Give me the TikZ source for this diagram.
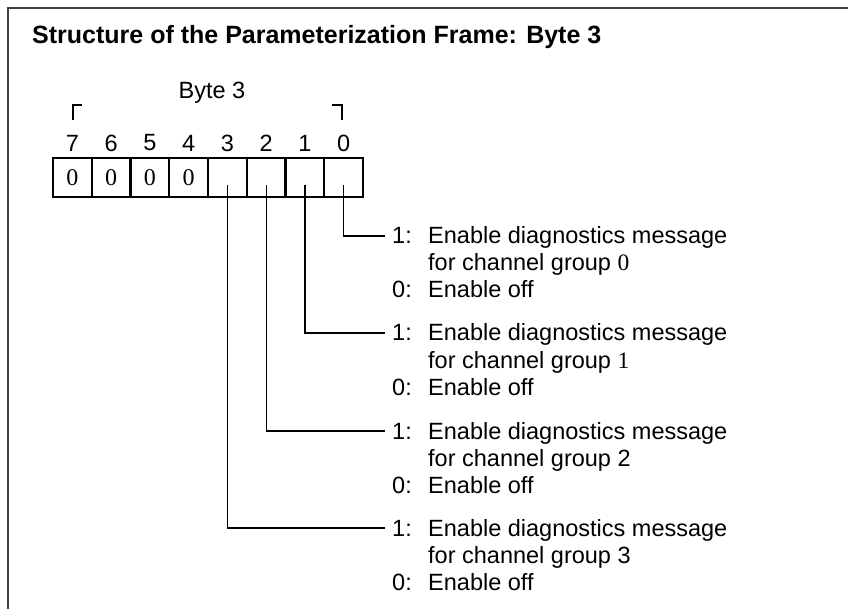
\documentclass[tikz,border=0pt]{standalone}
\usepackage{fontspec}
\setmainfont{Liberation Sans}
\newfontfamily\serifdig{Liberation Serif}
\begin{document}
\begin{tikzpicture}[x=1pt,y=-1pt,
  cell/.style={draw, line width=2.4pt, minimum width=38.75pt, minimum height=39pt, inner sep=0pt, font=\serifdig\fontsize{24}{24}\selectfont},
  bitnum/.style={font=\fontsize{23.5}{23.5}\selectfont, inner sep=0pt},
  conn/.style={line width=1.2pt},
  desc/.style={anchor=base west, inner sep=0pt, font=\fontsize{23.5}{27}\selectfont},
]
\useasboundingbox (0,0) rectangle (848,609);
\draw[line width=2pt, black!75] (8,609) -- (8,8) -- (848,8);
\node[anchor=base west, font=\bfseries\fontsize{25}{25}\selectfont, inner sep=0pt] (title) at (32,44) {Structure of the Parameterization Frame: Byte 3};
\node[bitnum] (byte) at (212,93) {Byte 3};
% cells
\node[cell] (c7) at (72.4,177.5) {0};
\node[cell] (c6) at (111.1,177.5) {0};
\node[cell] (c5) at (149.9,177.5) {0};
\node[cell] (c4) at (188.6,177.5) {0};
\node[cell] (c3) at (227.4,177.5) {};
\node[cell] (c2) at (266.1,177.5) {};
\node[cell] (c1) at (304.9,177.5) {};
\node[cell] (c0) at (343.6,177.5) {};
% bit numbers
\foreach \b in {7,...,0}{\node[bitnum] (n\b) at (c\b |- 0,143) {\b};}
% brackets
\draw[line width=1.2pt] (73,120) -- (73,105) -- (82,105);
\draw[line width=1.2pt] (332,105) -- (342,105) -- (342,120);
% descriptions
\def\grp#1#2#3{%
  \node[desc] (g#1a) at (392,#2+8) {1:};
  \node[desc] (g#1t) at (428,#2+8) {Enable diagnostics message};
  \node[desc] (g#1b) at (428,#2+35) {for channel group #3};
  \node[desc] (g#1c) at (392,#2+62) {0:};
  \node[desc] (g#1d) at (428,#2+62) {Enable off};
  \coordinate (e#1) at (385,#2);
  \draw[conn] ([yshift=-8pt]c#1.center) |- (e#1);
}
\grp{0}{236}{{\serifdig 0}}
\grp{1}{333}{{\serifdig 1}}
\grp{2}{431}{2}
\grp{3}{528}{3}
\end{tikzpicture}
\end{document}
